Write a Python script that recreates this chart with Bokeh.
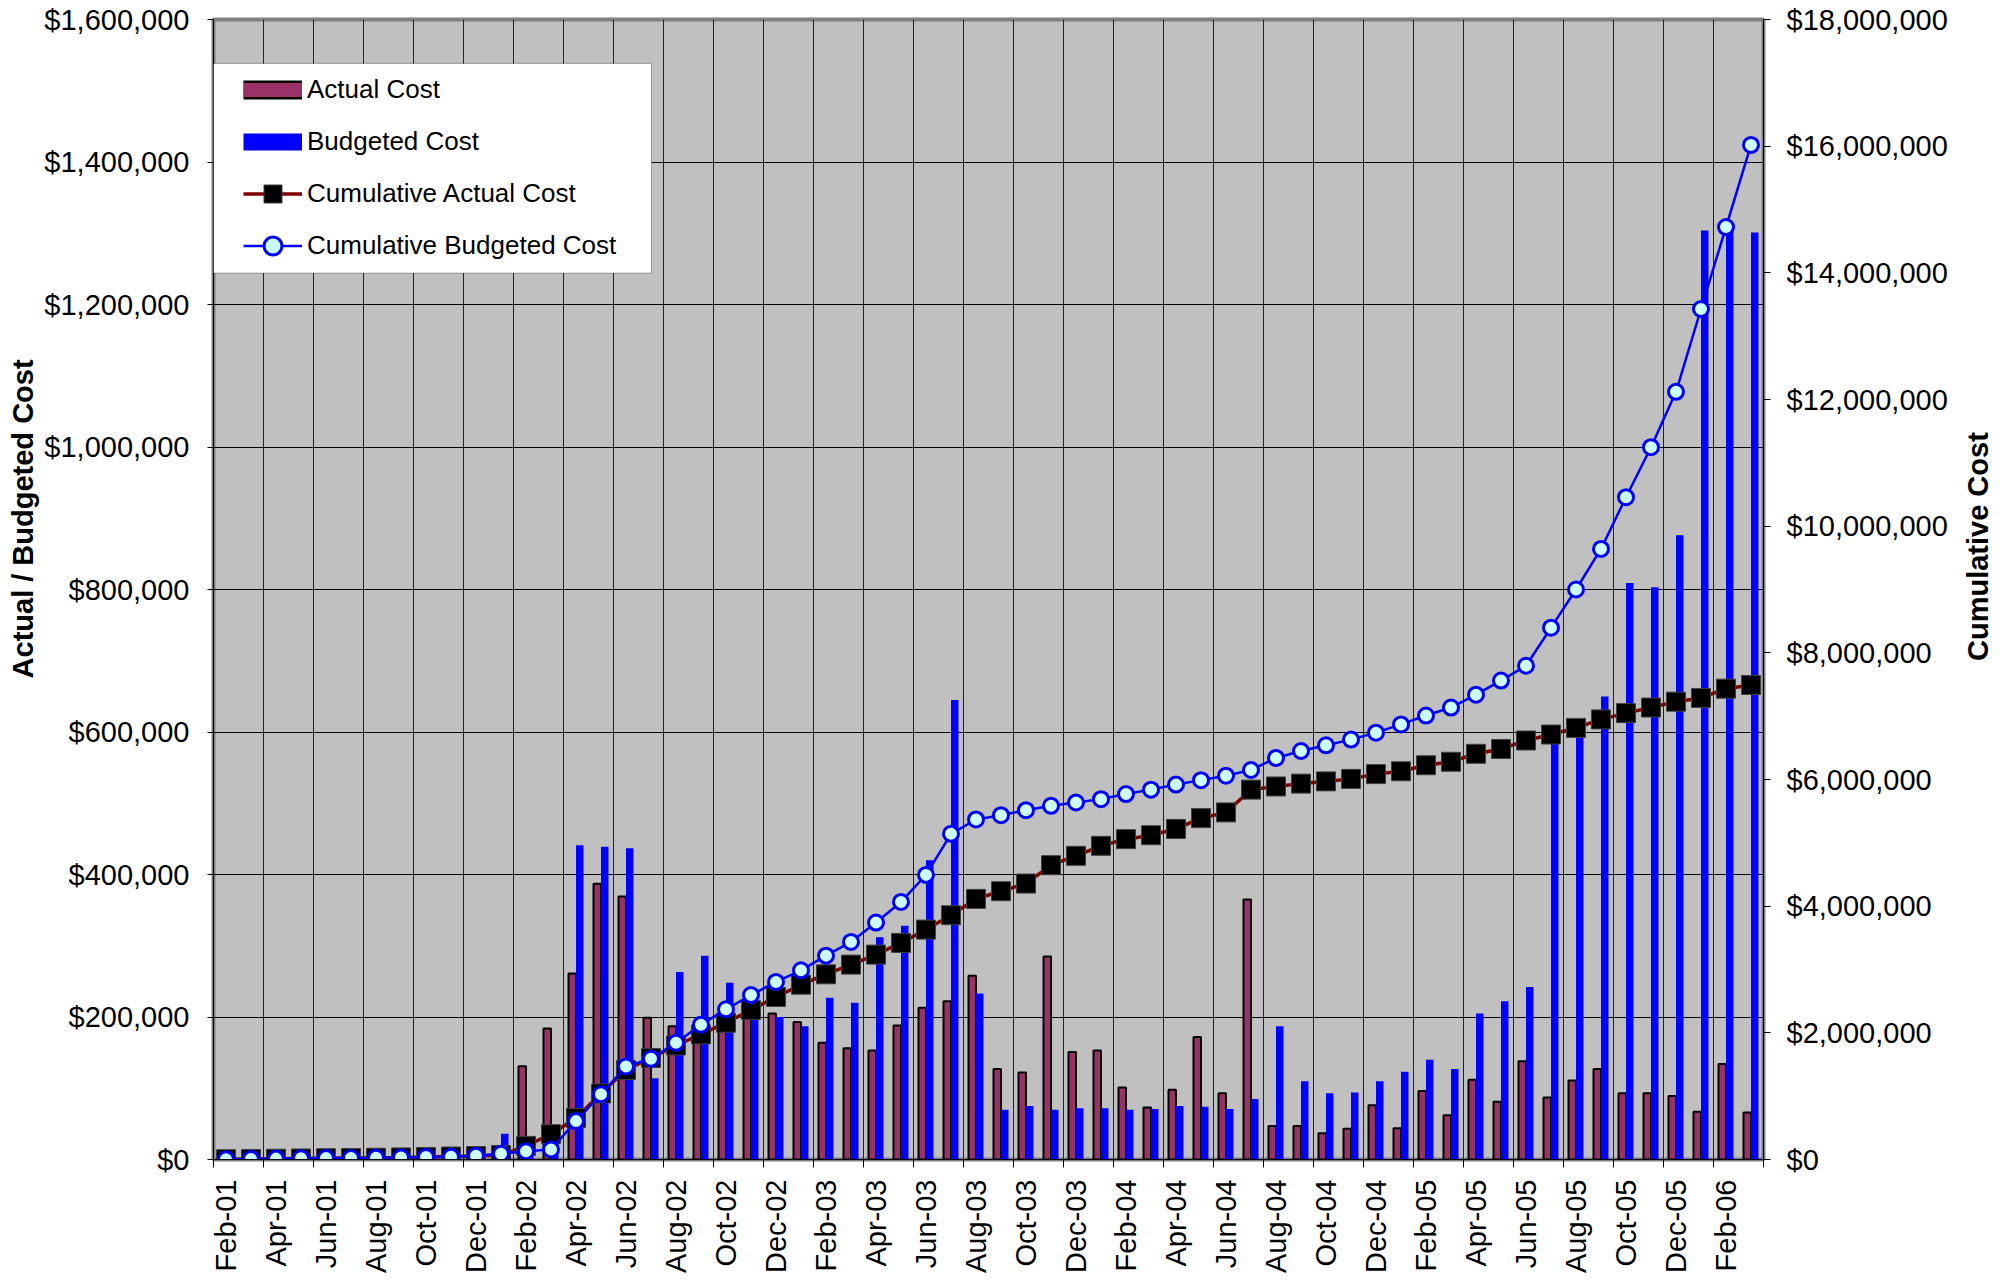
import math
from bokeh.plotting import figure
from bokeh.layouts import row
from bokeh.core.properties import value
from bokeh.models import (Range1d, LinearAxis, FixedTicker, NumeralTickFormatter, ColumnDataSource,
                          Legend, LegendItem, BoxAnnotation)
from bokeh.transform import dodge
from bokeh.embed import file_html
from bokeh.resources import INLINE

months = ["Feb-01", "Mar-01", "Apr-01", "May-01", "Jun-01", "Jul-01", "Aug-01", "Sep-01", "Oct-01", "Nov-01", "Dec-01",
          "Jan-02", "Feb-02", "Mar-02", "Apr-02", "May-02", "Jun-02", "Jul-02", "Aug-02", "Sep-02", "Oct-02", "Nov-02", "Dec-02",
          "Jan-03", "Feb-03", "Mar-03", "Apr-03", "May-03", "Jun-03", "Jul-03", "Aug-03", "Sep-03", "Oct-03", "Nov-03", "Dec-03",
          "Jan-04", "Feb-04", "Mar-04", "Apr-04", "May-04", "Jun-04", "Jul-04", "Aug-04", "Sep-04", "Oct-04", "Nov-04", "Dec-04",
          "Jan-05", "Feb-05", "Mar-05", "Apr-05", "May-05", "Jun-05", "Jul-05", "Aug-05", "Sep-05", "Oct-05", "Nov-05", "Dec-05",
          "Jan-06", "Feb-06", "Mar-06"]

actual_cost = [4000, 4000, 4000, 4000, 4000, 4000, 4000, 5000, 7000, 7000, 8000, 15000,
               131000, 184000, 261000, 387000, 369000, 199000, 187000, 185000, 185000, 200000, 205000, 193000,
               164000, 156000, 153000, 188000, 213000, 222000, 258000, 127000, 122000, 285000, 151000, 153000,
               101000, 73000, 98000, 172000, 93000, 365000, 47000, 47000, 37000, 43000, 76000, 44000,
               96000, 62000, 112000, 81000, 138000, 87000, 111000, 127000, 93000, 93000, 89000, 67000, 134000, 66000]

budget_cost = [4000, 5000, 5000, 4000, 4000, 3000, 3000, 4000, 8000, 5000, 10000, 36000,
               10000, 25000, 441000, 439000, 437000, 114000, 263000, 286000, 248000, 222000, 200000, 187000,
               227000, 220000, 312000, 328000, 420000, 645000, 233000, 70000, 75000, 70000, 72000, 72000,
               70000, 71000, 75000, 74000, 71000, 85000, 187000, 110000, 93000, 94000, 110000, 123000,
               140000, 127000, 205000, 222000, 242000, 600000, 600000, 650000, 809000, 803000, 876000, 1304000, 1302000, 1301000]

cum_actual = [4000, 8000, 12000, 16000, 20000, 24000, 28000, 33000, 40000, 47000, 55000, 70000,
              215000, 400000, 655000, 1043000, 1415000, 1602000, 1800000, 1975000, 2160000, 2360000, 2566000, 2760000,
              2924000, 3077000, 3235000, 3420000, 3630000, 3857000, 4115000, 4236000, 4357000, 4647000, 4795000, 4953000,
              5058000, 5120000, 5220000, 5390000, 5480000, 5840000, 5890000, 5935000, 5970000, 6010000, 6085000, 6130000,
              6225000, 6280000, 6406000, 6482000, 6616000, 6710000, 6815000, 6949000, 7048000, 7136000, 7229000, 7288000, 7434000, 7492000]

cum_budget = [4000, 9000, 14000, 18000, 22000, 25000, 28000, 32000, 40000, 45000, 60000, 90000,
              131000, 158000, 606000, 1030000, 1470000, 1590000, 1844000, 2128000, 2371000, 2597000, 2803000, 2987000,
              3219000, 3435000, 3741000, 4067000, 4494000, 5142000, 5369000, 5437000, 5516000, 5585000, 5637000, 5690000,
              5770000, 5840000, 5920000, 5990000, 6060000, 6150000, 6340000, 6450000, 6540000, 6630000, 6740000, 6870000,
              7010000, 7136000, 7340000, 7562000, 7796000, 8397000, 9000000, 9640000, 10457000, 11247000, 12122000, 13429000, 14722000, 16020000]

left_ticks = [0, 200000, 400000, 600000, 800000, 1000000, 1200000, 1400000, 1600000]
right_ticks = [0, 2000000, 4000000, 6000000, 8000000, 10000000, 12000000, 14000000, 16000000, 18000000]

left_title = "Actual / Budgeted Cost"
right_title = "Cumulative Cost"

FONT = "Liberation Sans"
H = 1276
idx = list(range(len(months)))
src = ColumnDataSource(dict(x=idx, actual=actual_cost, budget=budget_cost, cum_a=cum_actual, cum_b=cum_budget))

p = figure(width=1915, height=H, output_backend="svg", toolbar_location=None, title=None,
           x_range=Range1d(-0.5, len(months) - 0.5), y_range=Range1d(0, 1600000),
           min_border_left=173, min_border_right=192, min_border_top=19, min_border_bottom=115,
           background_fill_color="#C0C0C0", border_fill_color="white",
           outline_line_color="#808080", outline_line_width=4)
p.extra_y_ranges = {"cum": Range1d(0, 18000000)}

# x axis
bounds = [i - 0.5 for i in range(0, len(months) + 1, 2)]
xa = p.xaxis[0]
xa.ticker = FixedTicker(ticks=idx[::2], minor_ticks=bounds)
xa.major_label_overrides = {i: months[i] for i in idx[::2]}
xa.major_label_orientation = math.pi / 2
xa.major_tick_line_color = None
xa.major_tick_out = 8
xa.major_tick_in = 0
xa.minor_tick_out = 8
xa.minor_tick_in = 0
xa.minor_tick_line_color = "black"
xa.major_label_standoff = 12
xa.major_label_text_font = FONT
xa.major_label_text_font_size = "29px"
xa.major_label_text_color = "black"
xa.axis_line_color = "black"

# left axis
ya = p.yaxis[0]
ya.ticker = FixedTicker(ticks=left_ticks)
ya.formatter = NumeralTickFormatter(format="$0,0")
ya.major_tick_out = 6
ya.major_tick_in = 0
ya.minor_tick_line_color = None
ya.major_label_standoff = 18
ya.major_label_text_font = FONT
ya.major_label_text_font_size = "29px"
ya.major_label_text_color = "black"
ya.axis_line_color = "black"

# right axis
ra = LinearAxis(y_range_name="cum", ticker=FixedTicker(ticks=right_ticks),
                formatter=NumeralTickFormatter(format="$0,0"))
ra.major_tick_out = 7
ra.major_tick_in = 0
ra.minor_tick_line_color = None
ra.major_label_standoff = 16
ra.major_label_text_font = FONT
ra.major_label_text_font_size = "29px"
ra.major_label_text_color = "black"
ra.axis_line_color = "black"
p.add_layout(ra, "right")

# grids
p.xgrid.ticker = FixedTicker(ticks=bounds)
p.xgrid.grid_line_color = "#222222"
p.xgrid.grid_line_width = 1
p.ygrid.grid_line_color = "black"
p.ygrid.grid_line_width = 1

# bars
p.vbar(x=dodge("x", -0.15), top="actual", width=0.3, source=src,
       fill_color="#993366", line_color="black", line_width=2)
p.vbar(x=dodge("x", 0.15), top="budget", width=0.3, source=src,
       fill_color="#0000FF", line_color=None)

# cumulative lines
ca_line = p.line("x", "cum_a", source=src, y_range_name="cum", line_color="#800000", line_width=3.5)
ca_pts = p.scatter("x", "cum_a", source=src, y_range_name="cum", marker="square", size=19,
                   fill_color="black", line_color="#404040", line_width=1)
cb_line = p.line("x", "cum_b", source=src, y_range_name="cum", line_color="#0000FF", line_width=2.5)
cb_pts = p.scatter("x", "cum_b", source=src, y_range_name="cum", marker="circle", size=15,
                   fill_color="#CCFFFF", line_color="#0000FF", line_width=3)

# legend proxies (invisible NaN data) for bar swatches
nan = float("nan")
leg_a_border = p.line(x=[nan], y=[nan], line_color="black", line_width=19)
leg_a_fill = p.line(x=[nan], y=[nan], line_color="#993366", line_width=14)
leg_b = p.line(x=[nan], y=[nan], line_color="#0000FF", line_width=17)

box = BoxAnnotation(left=-0.5, right=17.02, top=1538354, bottom=1244133,
                    fill_color="white", fill_alpha=1, line_color="black", line_width=1)
p.add_layout(box)

legend = Legend(items=[
    LegendItem(label="Actual Cost", renderers=[leg_a_border, leg_a_fill]),
    LegendItem(label="Budgeted Cost", renderers=[leg_b]),
    LegendItem(label="Cumulative Actual Cost", renderers=[ca_line, ca_pts]),
    LegendItem(label="Cumulative Budgeted Cost", renderers=[cb_line, cb_pts]),
], location=(25, 886), glyph_width=59, glyph_height=45, label_standoff=5, padding=5, spacing=7,
    margin=0, label_text_font=FONT, label_text_font_size="26px", label_text_color="black",
    background_fill_alpha=0, border_line_alpha=0)
p.add_layout(legend, "center")


def title_strip(width, text, cx, cy):
    t = figure(width=width, height=H, output_backend="svg", toolbar_location=None, title=None,
               x_range=Range1d(0, width), y_range=Range1d(0, H),
               x_axis_location=None, y_axis_location=None,
               min_border=0, min_border_left=0, min_border_right=0, min_border_top=0, min_border_bottom=0,
               outline_line_color=None, background_fill_color="white", border_fill_color="white")
    t.xgrid.visible = False
    t.ygrid.visible = False
    t.text(x=[cx], y=[H - cy], text=[text], angle=math.pi / 2, text_align="center",
           text_baseline="middle", text_font=value(FONT), text_font_size="29px",
           text_font_style="bold", text_color="black")
    return t


left_strip = title_strip(40, left_title, 22, 559)
right_strip = title_strip(45, right_title, 22, 590)

layout = row(left_strip, p, right_strip, spacing=0)
open("out.html", "w").write(file_html(layout, INLINE))
